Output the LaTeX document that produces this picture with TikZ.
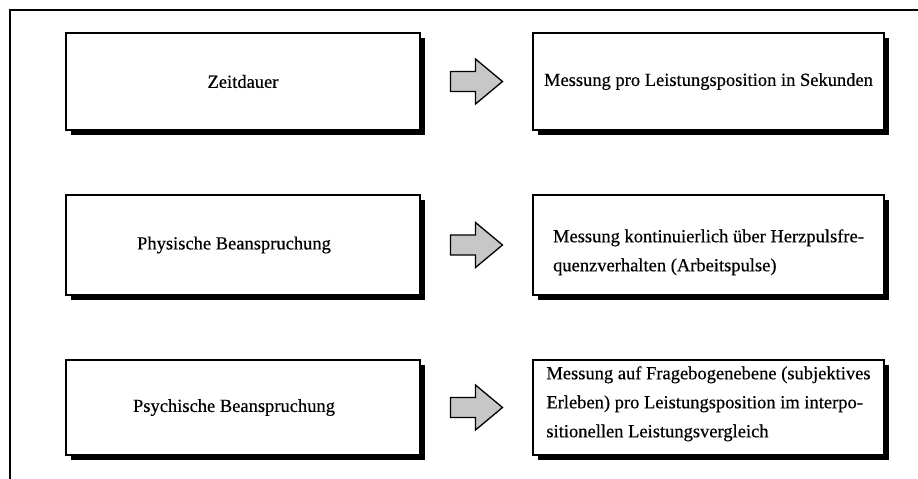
\documentclass[tikz,border=0pt]{standalone}
\usepackage{fontspec}
\setmainfont{Liberation Serif}[FakeBold=0.4]
\usetikzlibrary{shadows,calc}
\begin{document}
\begin{tikzpicture}[x=1pt,y=-1pt]
\tikzset{
  box/.style={draw=black, line width=1.3pt, fill=white, inner sep=0pt,
    general shadow={fill=black, shadow xshift=5pt, shadow yshift=-5pt},
    font=\fontsize{18.5}{29}\selectfont, align=left},
  leftbox/.style={box, minimum width=354pt},
  rightbox/.style={box, minimum width=351pt},
  blockarrow/.style={draw=black, line width=1.3pt, fill=black!22, line join=miter},
  frame/.style={draw=black, line width=1.6pt}
}
\useasboundingbox (0,0) rectangle (918,479);
\draw[frame] (10,479) -- (10,10) -- (918,10);
% left boxes
\node[leftbox, minimum height=97pt] (L1) at (243,81.5) {Zeitdauer};
\node[leftbox, minimum height=100pt] (L2) at (243,245) {Physische Beanspruchung\hspace*{18pt}};
\node[leftbox, minimum height=95pt] (L3) at (243,407.5) {Psychische Beanspruchung\hspace*{18pt}};
% right boxes
\node[rightbox, minimum height=97pt] (R1) at (708.5,81.5) {Messung pro Leistungsposition in Sekunden};
\node[rightbox, minimum height=100pt] (R2) at (708.5,245) {\raisebox{-6pt}[\height][\depth]{\begin{tabular}{@{}l@{}}Messung kontinuierlich über Herzpulsfre-\\quenzverhalten (Arbeitspulse)\end{tabular}}};
\node[rightbox, minimum height=95pt] (R3) at (708.5,407.5) {\raisebox{5pt}[\height][\depth]{\begin{tabular}{@{}l@{}}Messung auf Fragebogenebene (subjektives\\Erleben) pro Leistungsposition im interpo-\\sitionellen Leistungsvergleich\end{tabular}}};
% arrows
\foreach \i in {1,2,3}{
  \coordinate (m\i) at ($(L\i.east)!0.5!(R\i.west)$);
  \draw[blockarrow] ([shift={(-26,-10)}]m\i) -- ++(25,0) -- ++(0,-12.5) -- ++(27,22.5) -- ++(-27,22.5) -- ++(0,-12.5) -- ++(-25,0) -- cycle;
}
\end{tikzpicture}
\end{document}
